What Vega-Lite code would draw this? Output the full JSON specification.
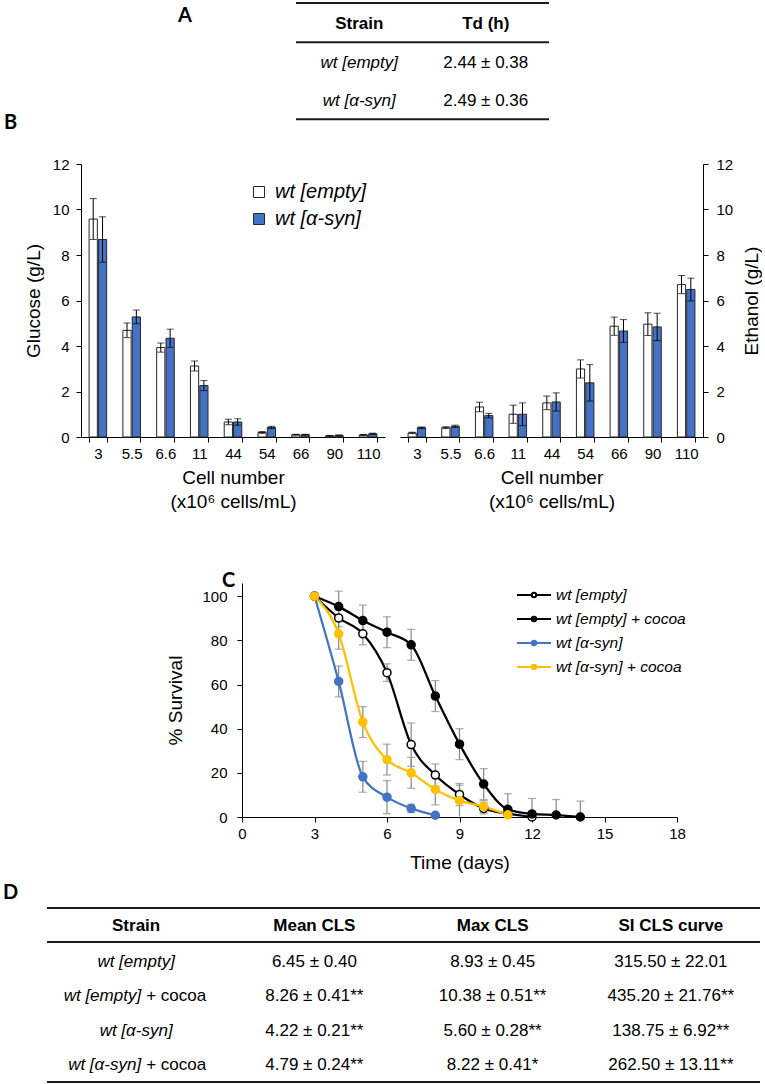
{
  "$schema": "https://vega.github.io/schema/vega-lite/v6.json",
  "padding": 0,
  "background": "white",
  "bounds": "flush",
  "spacing": 0,
  "resolve": {
    "scale": {"fill": "independent", "stroke": "independent", "color": "independent"},
    "legend": {"fill": "independent", "stroke": "independent"}
  },
  "config": {
    "font": "Liberation Sans",
    "view": {"stroke": null},
    "axis": {"grid": false, "domainColor": "#000", "tickColor": "#000", "labelColor": "#000", "titleColor": "#000", "titleFontWeight": "normal", "domainWidth": 1, "tickWidth": 1, "labelFont": "Liberation Sans", "titleFont": "Liberation Sans"},
    "legend": {"labelFont": "Liberation Sans", "labelColor": "#000"},
    "title": {"font": "Lato", "fontSize": 20, "fontWeight": "bold", "color": "#000", "anchor": "start", "frame": "group", "offset": 0, "baseline": "alphabetic"},
    "text": {"font": "Liberation Sans", "fontSize": 17, "color": "#000", "baseline": "middle"}
  },
  "datasets": {
    "bars": [
      {"cell": "3", "strain": "wt [empty]", "g": 9.58, "glo": 8.68, "ghi": 10.48, "e": 0.18, "elo": 0.15, "ehi": 0.21},
      {"cell": "3", "strain": "wt [α-syn]", "g": 8.68, "glo": 7.68, "ghi": 9.68, "e": 0.41, "elo": 0.38, "ehi": 0.44},
      {"cell": "5.5", "strain": "wt [empty]", "g": 4.69, "glo": 4.37, "ghi": 5.01, "e": 0.41, "elo": 0.37, "ehi": 0.45},
      {"cell": "5.5", "strain": "wt [α-syn]", "g": 5.28, "glo": 4.98, "ghi": 5.58, "e": 0.47, "elo": 0.42, "ehi": 0.52},
      {"cell": "6.6", "strain": "wt [empty]", "g": 3.93, "glo": 3.73, "ghi": 4.13, "e": 1.32, "elo": 1.11, "ehi": 1.53},
      {"cell": "6.6", "strain": "wt [α-syn]", "g": 4.34, "glo": 3.94, "ghi": 4.74, "e": 0.94, "elo": 0.84, "ehi": 1.04},
      {"cell": "11", "strain": "wt [empty]", "g": 3.12, "glo": 2.9, "ghi": 3.34, "e": 1.0, "elo": 0.6, "ehi": 1.4},
      {"cell": "11", "strain": "wt [α-syn]", "g": 2.26, "glo": 2.04, "ghi": 2.48, "e": 1.0, "elo": 0.5, "ehi": 1.5},
      {"cell": "44", "strain": "wt [empty]", "g": 0.66, "glo": 0.54, "ghi": 0.78, "e": 1.5, "elo": 1.2, "ehi": 1.8},
      {"cell": "44", "strain": "wt [α-syn]", "g": 0.66, "glo": 0.52, "ghi": 0.8, "e": 1.54, "elo": 1.14, "ehi": 1.94},
      {"cell": "54", "strain": "wt [empty]", "g": 0.2, "glo": 0.16, "ghi": 0.24, "e": 2.99, "elo": 2.59, "ehi": 3.39},
      {"cell": "54", "strain": "wt [α-syn]", "g": 0.42, "glo": 0.37, "ghi": 0.47, "e": 2.38, "elo": 1.58, "ehi": 3.18},
      {"cell": "66", "strain": "wt [empty]", "g": 0.1, "glo": 0.08, "ghi": 0.12, "e": 4.87, "elo": 4.47, "ehi": 5.27},
      {"cell": "66", "strain": "wt [α-syn]", "g": 0.1, "glo": 0.08, "ghi": 0.12, "e": 4.66, "elo": 4.16, "ehi": 5.16},
      {"cell": "90", "strain": "wt [empty]", "g": 0.05, "glo": 0.03, "ghi": 0.07, "e": 4.96, "elo": 4.46, "ehi": 5.46},
      {"cell": "90", "strain": "wt [α-syn]", "g": 0.07, "glo": 0.05, "ghi": 0.09, "e": 4.84, "elo": 4.24, "ehi": 5.44},
      {"cell": "110", "strain": "wt [empty]", "g": 0.09, "glo": 0.07, "ghi": 0.11, "e": 6.7, "elo": 6.3, "ehi": 7.1},
      {"cell": "110", "strain": "wt [α-syn]", "g": 0.14, "glo": 0.11, "ghi": 0.17, "e": 6.48, "elo": 5.98, "ehi": 6.98}
    ],
    "cls": [
      {"s": "wt [empty]", "t": 3, "v": 100, "lo": null, "hi": null},
      {"s": "wt [empty]", "t": 4, "v": 90.2, "lo": 86.2, "hi": 94.2},
      {"s": "wt [empty]", "t": 5, "v": 83, "lo": 78, "hi": 88},
      {"s": "wt [empty]", "t": 6, "v": 65.4, "lo": 61.4, "hi": 69.4},
      {"s": "wt [empty]", "t": 7, "v": 32.8, "lo": 23, "hi": 42.6},
      {"s": "wt [empty]", "t": 8, "v": 19, "lo": 14, "hi": 24},
      {"s": "wt [empty]", "t": 9, "v": 10.2, "lo": 5.2, "hi": 15.2},
      {"s": "wt [empty]", "t": 10, "v": 3.9, "lo": 1.4, "hi": 6.4},
      {"s": "wt [empty]", "t": 11, "v": 1.5, "lo": 0, "hi": 3.5},
      {"s": "wt [empty]", "t": 12, "v": 0, "lo": null, "hi": null},
      {"s": "wt [empty] + cocoa", "t": 3, "v": 100, "lo": null, "hi": null},
      {"s": "wt [empty] + cocoa", "t": 4, "v": 95.3, "lo": 88.3, "hi": 102.3},
      {"s": "wt [empty] + cocoa", "t": 5, "v": 89, "lo": 82, "hi": 96},
      {"s": "wt [empty] + cocoa", "t": 6, "v": 83.7, "lo": 76.7, "hi": 90.7},
      {"s": "wt [empty] + cocoa", "t": 7, "v": 78, "lo": 71, "hi": 85},
      {"s": "wt [empty] + cocoa", "t": 8, "v": 54.8, "lo": 47.8, "hi": 61.8},
      {"s": "wt [empty] + cocoa", "t": 9, "v": 33, "lo": 26, "hi": 40},
      {"s": "wt [empty] + cocoa", "t": 10, "v": 14.9, "lo": 7.9, "hi": 21.9},
      {"s": "wt [empty] + cocoa", "t": 11, "v": 3.5, "lo": 0, "hi": 10.5},
      {"s": "wt [empty] + cocoa", "t": 12, "v": 1.4, "lo": 0, "hi": 8.4},
      {"s": "wt [empty] + cocoa", "t": 13, "v": 0.9, "lo": 0, "hi": 7.9},
      {"s": "wt [empty] + cocoa", "t": 14, "v": 0, "lo": 0, "hi": 7.2},
      {"s": "wt [α-syn]", "t": 3, "v": 100, "lo": null, "hi": null},
      {"s": "wt [α-syn]", "t": 4, "v": 61.4, "lo": 54.4, "hi": 68.4},
      {"s": "wt [α-syn]", "t": 5, "v": 18.2, "lo": 11.2, "hi": 25.2},
      {"s": "wt [α-syn]", "t": 6, "v": 9, "lo": 1.5, "hi": 16.5},
      {"s": "wt [α-syn]", "t": 7, "v": 3.9, "lo": 2, "hi": 5.8},
      {"s": "wt [α-syn]", "t": 8, "v": 0.8, "lo": null, "hi": null},
      {"s": "wt [α-syn] + cocoa", "t": 3, "v": 100, "lo": null, "hi": null},
      {"s": "wt [α-syn] + cocoa", "t": 4, "v": 83, "lo": 76, "hi": 90},
      {"s": "wt [α-syn] + cocoa", "t": 5, "v": 43, "lo": 36, "hi": 50},
      {"s": "wt [α-syn] + cocoa", "t": 6, "v": 26, "lo": 19, "hi": 33},
      {"s": "wt [α-syn] + cocoa", "t": 7, "v": 20, "lo": 13, "hi": 27},
      {"s": "wt [α-syn] + cocoa", "t": 8, "v": 12.5, "lo": 5.5, "hi": 19.5},
      {"s": "wt [α-syn] + cocoa", "t": 9, "v": 7.4, "lo": 0.4, "hi": 14.4},
      {"s": "wt [α-syn] + cocoa", "t": 10, "v": 4.7, "lo": 2, "hi": 7.4},
      {"s": "wt [α-syn] + cocoa", "t": 11, "v": 1, "lo": null, "hi": null}
    ],
    "tableA": [
      {"r": 0, "c": 0, "t": "Strain", "k": "head"},
      {"r": 0, "c": 1, "t": "Td (h)", "k": "head"},
      {"r": 1, "c": 0, "t": "wt [empty]", "k": "name"},
      {"r": 1, "c": 1, "t": "2.44 ± 0.38", "k": "val"},
      {"r": 2, "c": 0, "t": "wt [α-syn]", "k": "name"},
      {"r": 2, "c": 1, "t": "2.49 ± 0.36", "k": "val"}
    ],
    "linesA": [
      {"ln": -0.54, "a": -0.5, "b": 1.5},
      {"ln": 0.47, "a": -0.5, "b": 1.5},
      {"ln": 2.46, "a": -0.5, "b": 1.5}
    ],
    "tableD": [
      {"r": -0.04, "c": 0, "t": "Strain", "k": "head"},
      {"r": -0.04, "c": 1, "t": "Mean CLS", "k": "head"},
      {"r": -0.04, "c": 2, "t": "Max CLS", "k": "head"},
      {"r": -0.04, "c": 3, "t": "SI CLS curve", "k": "head"},
      {"r": 1, "c": 0, "t": "wt [empty]", "k": "name"},
      {"r": 1, "c": 1, "t": "6.45 ± 0.40", "k": "val"},
      {"r": 1, "c": 2, "t": "8.93 ± 0.45", "k": "val"},
      {"r": 1, "c": 3, "t": "315.50 ± 22.01", "k": "val"},
      {"r": 2, "c": 0, "t": "wt [empty]", "k": "name2"},
      {"r": 2, "c": 0, "t": "+ cocoa", "k": "plus"},
      {"r": 2, "c": 1, "t": "8.26 ± 0.41**", "k": "val"},
      {"r": 2, "c": 2, "t": "10.38 ± 0.51**", "k": "val"},
      {"r": 2, "c": 3, "t": "435.20 ± 21.76**", "k": "val"},
      {"r": 3, "c": 0, "t": "wt [α-syn]", "k": "name"},
      {"r": 3, "c": 1, "t": "4.22 ± 0.21**", "k": "val"},
      {"r": 3, "c": 2, "t": "5.60 ± 0.28**", "k": "val"},
      {"r": 3, "c": 3, "t": "138.75 ± 6.92**", "k": "val"},
      {"r": 4, "c": 0, "t": "wt [α-syn]", "k": "name2"},
      {"r": 4, "c": 0, "t": "+ cocoa", "k": "plus"},
      {"r": 4, "c": 1, "t": "4.79 ± 0.24**", "k": "val"},
      {"r": 4, "c": 2, "t": "8.22 ± 0.41*", "k": "val"},
      {"r": 4, "c": 3, "t": "262.50 ± 13.11**", "k": "val"}
    ],
    "linesD": [
      {"ln": -0.567, "a": -0.5, "b": 3.5},
      {"ln": 0.4215, "a": -0.5, "b": 3.5},
      {"ln": 4.491, "a": -0.5, "b": 3.5}
    ]
  },
  "vconcat": [
    {
      "width": 549, "height": 120,
      "title": {"text": "A", "orient": "top", "dx": 178, "dy": 30},
      "data": {"name": "tableA"},
      "encoding": {
        "x": {"field": "c", "type": "quantitative", "scale": {"domain": [-0.5, 1.5], "range": [296, 549], "nice": false, "zero": false}, "axis": null},
        "y": {"field": "r", "type": "quantitative", "scale": {"domain": [-0.62, 2.481], "reverse": true, "nice": false, "zero": false}, "axis": null},
        "text": {"field": "t", "type": "nominal"}
      },
      "layer": [
        {
          "data": {"name": "linesA"},
          "mark": {"type": "rule", "strokeWidth": 2, "color": "#1a1a1a"},
          "encoding": {
            "text": null,
            "x": {"field": "a", "type": "quantitative", "scale": {"domain": [-0.5, 1.5], "range": [296, 549], "nice": false, "zero": false}, "axis": null},
            "x2": {"field": "b"},
            "y": {"field": "ln", "type": "quantitative", "scale": {"domain": [-0.62, 2.481], "reverse": true, "nice": false, "zero": false}, "axis": null}
          }
        },
        {"transform": [{"filter": "datum.k == 'head'"}], "mark": {"type": "text", "fontWeight": "bold"}},
        {"transform": [{"filter": "datum.k == 'name'"}], "mark": {"type": "text", "fontStyle": "italic"}},
        {"transform": [{"filter": "datum.k == 'val'"}], "mark": {"type": "text"}}
      ]
    },
    {
      "width": 1, "height": 44,
      "data": {"values": []},
      "mark": "point",
      "title": {"text": "B", "orient": "top", "dx": 4, "dy": 17}
    },
    {
      "width": 703, "height": 273,
      "data": {"name": "bars"},
      "resolve": {
        "scale": {"x": "independent", "y": "independent", "xOffset": "independent", "fill": "independent"},
        "axis": {"x": "independent", "y": "independent"},
        "legend": {"fill": "independent"}
      },
      "layer": [
        {
          "encoding": {
            "x": {"field": "cell", "type": "nominal", "sort": ["3", "5.5", "6.6", "11", "44", "54", "66", "90", "110"], "scale": {"range": [81, 385], "paddingInner": 0.48, "paddingOuter": 0.24},
                  "axis": {"orient": "bottom", "title": ["Cell number", "(x10⁶ cells/mL)"], "labelAngle": 0, "tickBand": "extent", "labelFontSize": 15, "titleFontSize": 19, "titlePadding": 7, "labelPadding": 4, "tickSize": 5, "titleLineHeight": 24}},
            "xOffset": {"field": "strain", "type": "nominal", "sort": ["wt [empty]", "wt [α-syn]"], "scale": {"paddingInner": 0.12, "paddingOuter": 0}}
          },
          "layer": [
            {
              "mark": {"type": "bar", "stroke": "#262626", "strokeWidth": 1},
              "encoding": {
                "y": {"field": "g", "type": "quantitative", "title": "Glucose (g/L)", "scale": {"domain": [0, 12], "nice": false},
                      "axis": {"orient": "left", "offset": -81, "values": [0, 2, 4, 6, 8, 10, 12], "tickSize": 5, "labelPadding": 7, "labelFontSize": 15, "titleFontSize": 19, "titlePadding": 9}},
                "fill": {"field": "strain", "type": "nominal", "scale": {"domain": ["wt [empty]", "wt [α-syn]"], "range": ["#ffffff", "#4472c4"]},
                         "legend": {"orient": "none", "legendX": 249, "legendY": 18, "title": null, "symbolType": "square", "symbolSize": 121, "symbolStrokeColor": "#262626", "symbolStrokeWidth": 1, "labelFontSize": 20, "labelFontStyle": "italic", "labelOffset": 6, "rowPadding": 7, "padding": 0}}
              }
            },
            {
              "mark": {"type": "rule", "color": "#000", "strokeWidth": 1},
              "encoding": {"y": {"field": "glo", "type": "quantitative", "title": "Glucose (g/L)", "scale": {"domain": [0, 12], "nice": false}}, "y2": {"field": "ghi"}}
            },
            {
              "mark": {"type": "tick", "orient": "horizontal", "color": "#000", "thickness": 1, "size": 7},
              "encoding": {"y": {"field": "ghi", "type": "quantitative", "title": "Glucose (g/L)", "scale": {"domain": [0, 12], "nice": false}}}
            },
            {
              "mark": {"type": "tick", "orient": "horizontal", "color": "#000", "thickness": 1, "size": 7},
              "encoding": {"y": {"field": "glo", "type": "quantitative", "title": "Glucose (g/L)", "scale": {"domain": [0, 12], "nice": false}}}
            }
          ]
        },
        {
          "encoding": {
            "x": {"field": "cell", "type": "nominal", "sort": ["3", "5.5", "6.6", "11", "44", "54", "66", "90", "110"], "scale": {"range": [400, 703], "paddingInner": 0.48, "paddingOuter": 0.24},
                  "axis": {"orient": "bottom", "title": ["Cell number", "(x10⁶ cells/mL)"], "labelAngle": 0, "tickBand": "extent", "labelFontSize": 15, "titleFontSize": 19, "titlePadding": 7, "labelPadding": 4, "tickSize": 5, "titleLineHeight": 24}},
            "xOffset": {"field": "strain", "type": "nominal", "sort": ["wt [empty]", "wt [α-syn]"], "scale": {"paddingInner": 0.12, "paddingOuter": 0}}
          },
          "layer": [
            {
              "mark": {"type": "bar", "stroke": "#262626", "strokeWidth": 1},
              "encoding": {
                "y": {"field": "e", "type": "quantitative", "title": "Ethanol (g/L)", "scale": {"domain": [0, 12], "nice": false},
                      "axis": {"orient": "right", "values": [0, 2, 4, 6, 8, 10, 12], "tickSize": 5, "labelPadding": 8, "labelFontSize": 15, "titleFontSize": 19, "titlePadding": 10, "titleAngle": 270, "titleBaseline": "top"}},
                "fill": {"field": "strain", "type": "nominal", "scale": {"domain": ["wt [empty]", "wt [α-syn]"], "range": ["#ffffff", "#4472c4"]}, "legend": null}
              }
            },
            {
              "mark": {"type": "rule", "color": "#000", "strokeWidth": 1},
              "encoding": {"y": {"field": "elo", "type": "quantitative", "title": "Ethanol (g/L)", "scale": {"domain": [0, 12], "nice": false}}, "y2": {"field": "ehi"}}
            },
            {
              "mark": {"type": "tick", "orient": "horizontal", "color": "#000", "thickness": 1, "size": 7},
              "encoding": {"y": {"field": "ehi", "type": "quantitative", "title": "Ethanol (g/L)", "scale": {"domain": [0, 12], "nice": false}}}
            },
            {
              "mark": {"type": "tick", "orient": "horizontal", "color": "#000", "thickness": 1, "size": 7},
              "encoding": {"y": {"field": "elo", "type": "quantitative", "title": "Ethanol (g/L)", "scale": {"domain": [0, 12], "nice": false}}}
            }
          ]
        }
      ]
    },
    {
      "width": 1, "height": 146,
      "data": {"values": []},
      "mark": "point",
      "title": {"text": "C", "orient": "top", "dx": 222, "dy": 158}
    },
    {
      "width": 677, "height": 234,
      "data": {"name": "cls"},
      "encoding": {
        "x": {"field": "t", "type": "quantitative", "title": "Time (days)", "scale": {"domain": [0, 18], "range": [242, 677], "nice": false, "zero": false},
              "axis": {"values": [0, 3, 6, 9, 12, 15, 18], "tickSize": 5, "labelPadding": 4, "labelFontSize": 15, "titleFontSize": 19, "titlePadding": 12, "labelFlush": false}}
      },
      "layer": [
        {
          "transform": [{"filter": "datum.hi != null"}],
          "mark": {"type": "rule", "color": "#8c8c8c", "strokeWidth": 1.25},
          "encoding": {
            "y": {"field": "lo", "type": "quantitative", "title": "% Survival", "scale": {"domain": [0, 106], "nice": false},
                  "axis": {"orient": "left", "offset": -242, "values": [0, 20, 40, 60, 80, 100], "tickSize": 5, "labelPadding": 10, "labelFontSize": 15, "titleFontSize": 19, "titlePadding": 16}},
            "y2": {"field": "hi"}
          }
        },
        {
          "transform": [{"filter": "datum.hi != null"}],
          "mark": {"type": "tick", "orient": "horizontal", "color": "#8c8c8c", "thickness": 1.25, "size": 8},
          "encoding": {"y": {"field": "hi", "type": "quantitative", "title": "% Survival", "scale": {"domain": [0, 106], "nice": false}}}
        },
        {
          "transform": [{"filter": "datum.lo != null && datum.lo > 0.5"}],
          "mark": {"type": "tick", "orient": "horizontal", "color": "#8c8c8c", "thickness": 1.25, "size": 8},
          "encoding": {"y": {"field": "lo", "type": "quantitative", "title": "% Survival", "scale": {"domain": [0, 106], "nice": false}}}
        },
        {
          "mark": {"type": "line", "interpolate": "monotone", "strokeWidth": 2.25},
          "encoding": {
            "y": {"field": "v", "type": "quantitative", "title": "% Survival", "scale": {"domain": [0, 106], "nice": false}},
            "stroke": {"field": "s", "type": "nominal", "scale": {"domain": ["wt [empty]", "wt [empty] + cocoa", "wt [α-syn]", "wt [α-syn] + cocoa"], "range": ["#000000", "#000000", "#4472c4", "#ffc000"]},
                       "legend": {"orient": "none", "legendX": 526, "legendY": 4, "title": null, "symbolType": "M-2.43,0H-0.32M0.32,0H2.43M-0.32,0A0.32,0.32,0,1,0,0.32,0A0.32,0.32,0,1,0,-0.32,0Z", "symbolSize": 196, "symbolStrokeWidth": 2, "labelFontSize": 15.5, "labelFontStyle": "italic", "labelOffset": 14, "rowPadding": 7, "padding": 0}}
          }
        },
        {
          "mark": {"type": "point", "shape": "circle", "size": 64, "strokeWidth": 1.5, "opacity": 1, "filled": true},
          "encoding": {
            "y": {"field": "v", "type": "quantitative", "title": "% Survival", "scale": {"domain": [0, 106], "nice": false}},
            "fill": {"field": "s", "type": "nominal", "scale": {"domain": ["wt [empty]", "wt [empty] + cocoa", "wt [α-syn]", "wt [α-syn] + cocoa"], "range": ["#ffffff", "#000000", "#4472c4", "#ffc000"]},
                     "legend": {"orient": "none", "legendX": 526, "legendY": 4, "title": null, "symbolType": "M-2.43,0H-0.32M0.32,0H2.43M-0.32,0A0.32,0.32,0,1,0,0.32,0A0.32,0.32,0,1,0,-0.32,0Z", "symbolSize": 196, "symbolStrokeWidth": 2, "labelFontSize": 15.5, "labelFontStyle": "italic", "labelOffset": 14, "rowPadding": 7, "padding": 0}},
            "stroke": {"field": "s", "type": "nominal", "scale": {"domain": ["wt [empty]", "wt [empty] + cocoa", "wt [α-syn]", "wt [α-syn] + cocoa"], "range": ["#000000", "#000000", "#4472c4", "#ffc000"]},
                       "legend": {"orient": "none", "legendX": 526, "legendY": 4, "title": null, "symbolType": "M-2.43,0H-0.32M0.32,0H2.43M-0.32,0A0.32,0.32,0,1,0,0.32,0A0.32,0.32,0,1,0,-0.32,0Z", "symbolSize": 196, "symbolStrokeWidth": 2, "labelFontSize": 15.5, "labelFontStyle": "italic", "labelOffset": 14, "rowPadding": 7, "padding": 0}}
          }
        }
      ]
    },
    {
      "width": 1, "height": 63,
      "data": {"values": []},
      "mark": "point",
      "title": {"text": "D", "orient": "top", "dx": 3, "dy": 90}
    },
    {
      "width": 760, "height": 204,
      "data": {"name": "tableD"},
      "encoding": {
        "x": {"field": "c", "type": "quantitative", "scale": {"domain": [-0.5, 3.5], "range": [47, 760], "nice": false, "zero": false}, "axis": null},
        "y": {"field": "r", "type": "quantitative", "scale": {"domain": [-1.381, 4.549], "reverse": true, "nice": false, "zero": false}, "axis": null},
        "text": {"field": "t", "type": "nominal"}
      },
      "layer": [
        {
          "data": {"name": "linesD"},
          "mark": {"type": "rule", "strokeWidth": 2, "color": "#1a1a1a"},
          "encoding": {
            "text": null,
            "x": {"field": "a", "type": "quantitative", "scale": {"domain": [-0.5, 3.5], "range": [47, 760], "nice": false, "zero": false}, "axis": null},
            "x2": {"field": "b"},
            "y": {"field": "ln", "type": "quantitative", "scale": {"domain": [-1.381, 4.549], "reverse": true, "nice": false, "zero": false}, "axis": null}
          }
        },
        {"transform": [{"filter": "datum.k == 'head'"}], "mark": {"type": "text", "fontWeight": "bold"}},
        {"transform": [{"filter": "datum.k == 'name'"}], "mark": {"type": "text", "fontStyle": "italic"}},
        {"transform": [{"filter": "datum.k == 'name2'"}], "mark": {"type": "text", "fontStyle": "italic", "align": "right", "dx": 5}},
        {"transform": [{"filter": "datum.k == 'plus'"}], "mark": {"type": "text", "align": "left", "dx": 10}},
        {"transform": [{"filter": "datum.k == 'val'"}], "mark": {"type": "text"}}
      ]
    }
  ]
}
